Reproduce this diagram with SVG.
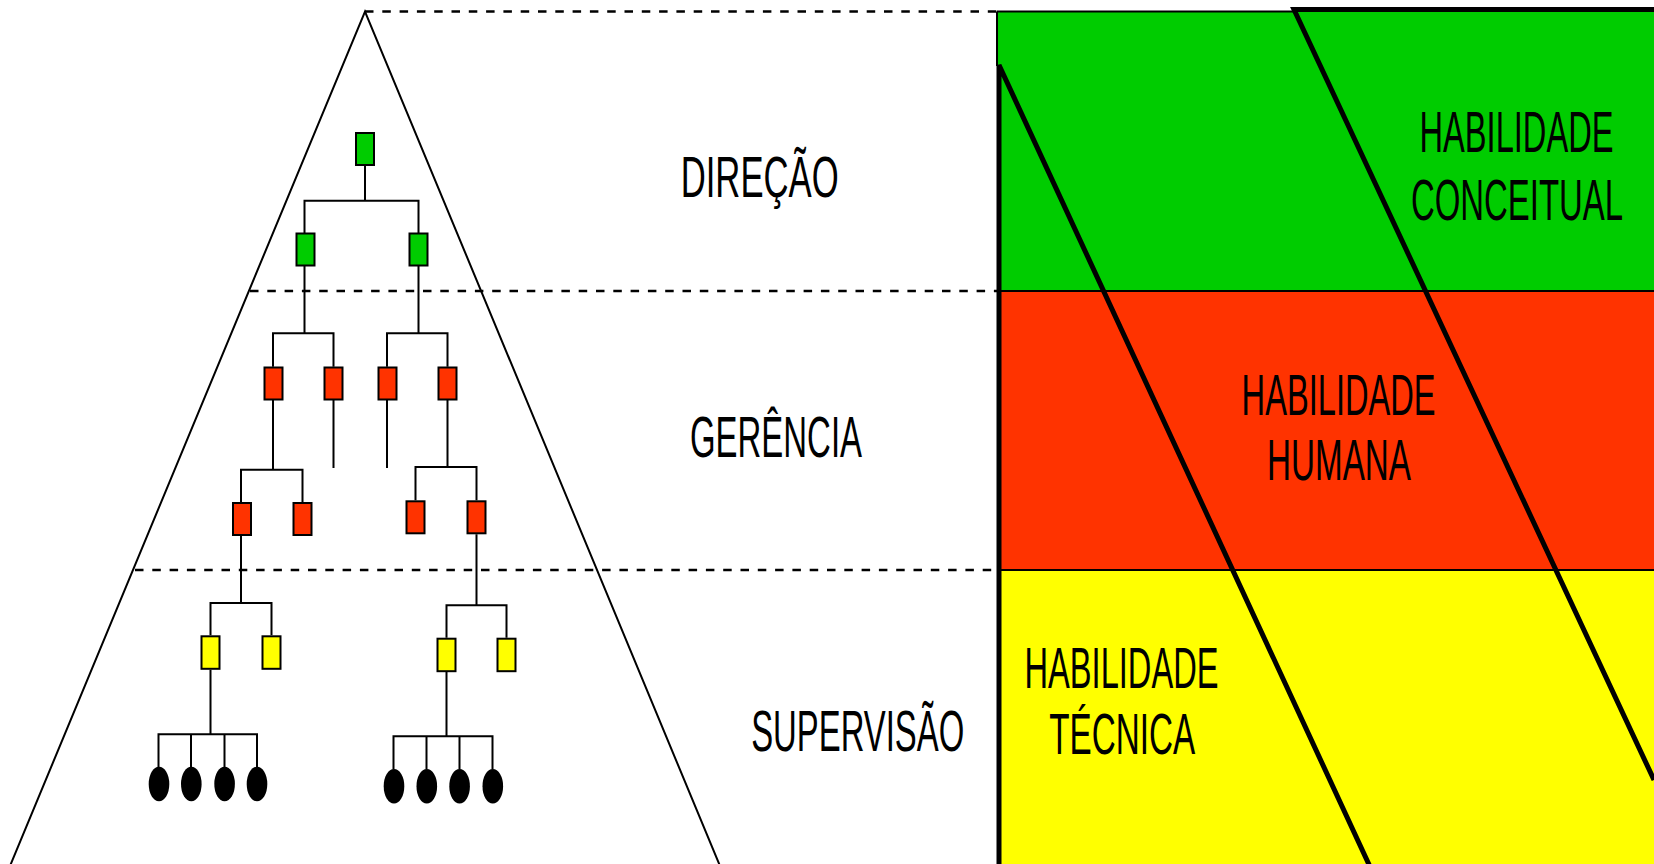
<svg xmlns="http://www.w3.org/2000/svg" width="1654" height="864" viewBox="0 0 1654 864">
<style>
.lbl{font-family:"Liberation Sans",Arial,sans-serif;font-size:58px;fill:#000;text-anchor:middle}
.ln{stroke:#000;stroke-width:2;fill:none}
.dash{stroke:#000;stroke-width:2.5;stroke-dasharray:8.5 8.8;fill:none}
.thick{stroke:#000;stroke-width:5;fill:none;stroke-linejoin:miter}
.g{fill:#00CC00;stroke:#000;stroke-width:2}
.r{fill:#FF3300;stroke:#000;stroke-width:2}
.y{fill:#FFFF00;stroke:#000;stroke-width:2}
.e{fill:#000}
</style>
<rect width="1654" height="864" fill="#fff"/>

<g id="right-panel">
<rect x="998" y="11.5" width="656" height="279.5" fill="#00CC00"/>
<rect x="998" y="291" width="656" height="279" fill="#FF3300"/>
<rect x="998" y="570" width="656" height="294" fill="#FFFF00"/>
<line class="ln" x1="997" y1="11.5" x2="1294" y2="11.5"/>
<line class="ln" x1="997" y1="11.5" x2="997" y2="66"/>
<line class="ln" x1="998" y1="291" x2="1654" y2="291"/>
<line class="ln" x1="998" y1="570" x2="1654" y2="570"/>
<polyline class="thick" points="999,870 999,65 1371.5,870"/>
<polyline class="thick" points="1660,9.5 1294,9.5 1654,780"/>
</g>

<g id="levels">
<line class="dash" x1="365" y1="11.5" x2="998" y2="11.5"/>
<line class="dash" x1="250" y1="291" x2="998" y2="291"/>
<line class="dash" x1="135" y1="570" x2="998" y2="570"/>
<polyline class="ln" points="10,866 365,11.5 720,866"/>
</g>

<g id="connectors">
<path class="ln" d="M365,166 V200.7 M304.5,233 V200.7 H418.5 V233"/>
<path class="ln" d="M304.5,266 V333.3 M273,366.7 V333.3 H333.5 V366.7"/>
<path class="ln" d="M418.5,266 V333.3 M387,366.7 V333.3 H447.5 V366.7"/>
<path class="ln" d="M273,400 V469.7 M241,502 V469.7 H302.5 V502"/>
<path class="ln" d="M333.5,400 V468 M387,400 V468"/>
<path class="ln" d="M447.5,400 V467 M415.5,500.3 V467 H476.5 V500.3"/>
<path class="ln" d="M241,536 V603 M210.5,635.3 V603 H271.5 V635.3"/>
<path class="ln" d="M476.5,534.3 V605.3 M446.5,637.7 V605.3 H506.5 V637.7"/>
<path class="ln" d="M210.5,669.7 V734.3 M158.5,767 V734.3 H257 V767 M191,734.3 V767 M224.5,734.3 V767"/>
<path class="ln" d="M446.5,671.3 V736.3 M393.5,769.3 V736.3 H492.5 V769.3 M426.5,736.3 V769.3 M459.5,736.3 V769.3"/>
</g>

<g id="n-top"><rect class="g" x="356" y="133" width="18" height="32"/></g>
<g id="n-g1"><rect class="g" x="296.5" y="233.5" width="18" height="32"/></g>
<g id="n-g2"><rect class="g" x="409.5" y="233.5" width="18" height="32"/></g>
<g id="n-r1"><rect class="r" x="264.5" y="367.5" width="18" height="32"/></g>
<g id="n-r2"><rect class="r" x="324.5" y="367.5" width="18" height="32"/></g>
<g id="n-r3"><rect class="r" x="378.5" y="367.5" width="18" height="32"/></g>
<g id="n-r4"><rect class="r" x="438.5" y="367.5" width="18" height="32"/></g>
<g id="n-r5"><rect class="r" x="233" y="503" width="18" height="32"/></g>
<g id="n-r6"><rect class="r" x="293.5" y="503" width="18" height="32"/></g>
<g id="n-r7"><rect class="r" x="406.5" y="501.3" width="18" height="32"/></g>
<g id="n-r8"><rect class="r" x="467.5" y="501.3" width="18" height="32"/></g>
<g id="n-y1"><rect class="y" x="201.5" y="636.3" width="18" height="32.5"/></g>
<g id="n-y2"><rect class="y" x="262.5" y="636.3" width="18" height="32.5"/></g>
<g id="n-y3"><rect class="y" x="437.5" y="638.7" width="18" height="32.5"/></g>
<g id="n-y4"><rect class="y" x="497.5" y="638.7" width="18" height="32.5"/></g>
<g id="n-e1"><ellipse class="e" cx="159" cy="784" rx="10.3" ry="17.3"/></g>
<g id="n-e2"><ellipse class="e" cx="191.3" cy="784" rx="10.3" ry="17.3"/></g>
<g id="n-e3"><ellipse class="e" cx="224.6" cy="784" rx="10.3" ry="17.3"/></g>
<g id="n-e4"><ellipse class="e" cx="257" cy="784" rx="10.3" ry="17.3"/></g>
<g id="n-e5"><ellipse class="e" cx="394" cy="786.3" rx="10.3" ry="17.3"/></g>
<g id="n-e6"><ellipse class="e" cx="426.8" cy="786.3" rx="10.3" ry="17.3"/></g>
<g id="n-e7"><ellipse class="e" cx="459.6" cy="786.3" rx="10.3" ry="17.3"/></g>
<g id="n-e8"><ellipse class="e" cx="492.8" cy="786.3" rx="10.3" ry="17.3"/></g>

<g id="labels">
<text class="lbl" x="759.7" y="197.3" textLength="158" lengthAdjust="spacingAndGlyphs">DIREÇÃO</text>
<text class="lbl" x="776" y="457.3" textLength="172" lengthAdjust="spacingAndGlyphs">GERÊNCIA</text>
<text class="lbl" x="857.7" y="751" textLength="213" lengthAdjust="spacingAndGlyphs">SUPERVISÃO</text>
<text class="lbl" x="1516.5" y="152" textLength="194" lengthAdjust="spacingAndGlyphs">HABILIDADE</text>
<text class="lbl" x="1517" y="220" textLength="212" lengthAdjust="spacingAndGlyphs">CONCEITUAL</text>
<text class="lbl" x="1338.6" y="415" textLength="194" lengthAdjust="spacingAndGlyphs">HABILIDADE</text>
<text class="lbl" x="1339" y="480" textLength="144" lengthAdjust="spacingAndGlyphs">HUMANA</text>
<text class="lbl" x="1121.5" y="687.7" textLength="194" lengthAdjust="spacingAndGlyphs">HABILIDADE</text>
<text class="lbl" x="1122.3" y="753.7" textLength="146" lengthAdjust="spacingAndGlyphs">TÉCNICA</text>
</g>
</svg>
